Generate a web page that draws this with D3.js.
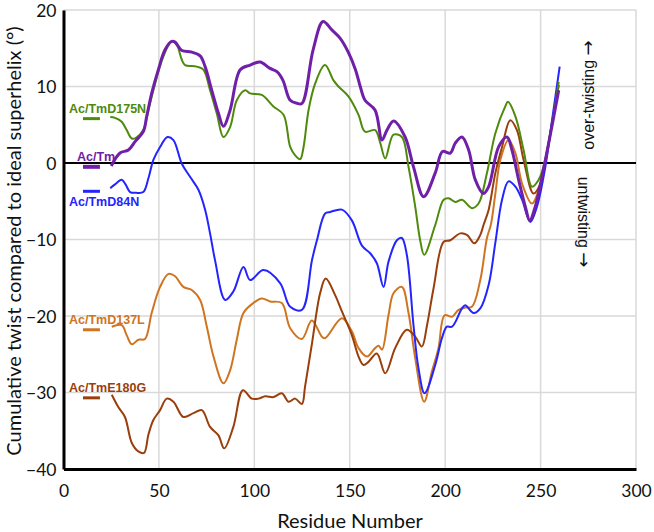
<!DOCTYPE html>
<html>
<head>
<meta charset="utf-8">
<script src="https://cdn.jsdelivr.net/npm/d3@7"></script>
<style>
  body { margin: 0; background: #fff; }
  svg { display: block; }
</style>
</head>
<body>
<svg></svg>
<script>
var width = 654;
var height = 532;

// axis ticks
var xTicks = [0, 50, 100, 150, 200, 250, 300];
var yTicks = [-40, -30, -20, -10, 0, 10, 20];

// [residue, cumulative twist]
var acTm = [[25,-0.4],[29.6,1.3],[34,1.7],[37.5,2.8],[41.8,4.1],[43.6,6.1],[46.2,9.1],[49.7,12.2],[53.2,14.8],[56.7,15.9],[58.5,15.8],[62,14.7],[67.2,14.5],[71.6,14.0],[74.2,12.6],[77.7,9.5],[81.2,6.5],[83.8,4.8],[87.3,6.9],[92.6,12.2],[97.8,12.8],[103,13.2],[108,12.4],[112,11.9],[115,10.8],[118.8,8.2],[122.4,7.8],[125,7.8],[130.8,14.8],[136,18.5],[140.6,17.4],[145,16.3],[149.4,14.4],[153,12.2],[155.5,10],[158,8.2],[163.3,6.9],[166.9,3.0],[169.5,4.3],[173,5.5],[179,3.4],[183.4,-0.5],[188.7,-4.4],[194.8,-1.3],[198.6,1.5],[202.7,1.3],[205.3,2.6],[208.8,3.4],[212.3,1.7],[215.8,-2.2],[220.1,-4.0],[222.8,-3.1],[228,2.1],[232.4,3.4],[235,1.7],[238.5,-2.2],[242,-5.7],[244.3,-7.5],[247.2,-5.7],[252.5,0.4],[259.5,9.5]];

var acD175N = [[24.5,6.0],[27,5.9],[30.5,5.4],[33.1,4.3],[35.8,3.2],[38,3.3],[41.8,4.3],[44.5,6.9],[47.1,9.5],[52.3,13.9],[56.7,15.9],[59.4,15.4],[62,13.5],[63.7,12.8],[69.8,12.6],[73.3,12.2],[76.8,9.5],[80.3,6.5],[83.8,3.4],[87.3,4.7],[90.8,8.2],[95.2,9.5],[97.8,9.1],[103.9,8.9],[110,7.4],[115.3,6.3],[118.8,2.1],[121.4,1.0],[124,0.5],[125.8,2.1],[128.4,6.9],[131.9,10.4],[137,12.8],[141.5,10.8],[144.1,10],[149.3,8.7],[154.6,6.3],[158,4.1],[163.3,4.3],[166,2.6],[168.6,0.6],[172.9,3.7],[177.3,3.4],[180.8,-0.5],[184.3,-5.7],[186.9,-10.1],[189,-12.0],[194.8,-8.1],[199.2,-4.8],[201.8,-4.6],[205.3,-5.1],[208.8,-4.8],[214,-5.9],[217.5,-5.3],[221.9,-1.3],[226.3,3.9],[231.5,7.4],[232.9,8.0],[236.8,6.1],[241.1,1.7],[245.5,-3.1],[249,-2.2],[252.5,0.4],[259.5,10.6]];

var acD84N = [[24.5,-3.3],[27,-2.8],[30.5,-2.2],[32.5,-2.8],[34.9,-3.8],[38,-3.9],[41.8,-3.8],[44.5,-2],[47.1,0.4],[50.6,2.1],[54.5,3.4],[57.6,3.0],[62,-0.1],[66.3,-1.8],[70.7,-3.5],[74.2,-6.1],[76.8,-9.2],[79.4,-12.7],[84.7,-17.9],[89,-16.8],[94.3,-13.6],[97.8,-15.3],[104.8,-14],[113.5,-15.7],[118.8,-18.8],[124.9,-19.2],[130.2,-12.7],[132.8,-10.1],[137.1,-6.6],[139.8,-6.4],[145.9,-6.1],[151.1,-7.5],[156.4,-10.8],[160.7,-11.8],[164.2,-13.1],[167.7,-16.2],[170.3,-12.9],[174.7,-10.1],[177.3,-9.8],[179.9,-12.0],[183.4,-21.2],[186,-26.8],[189.2,-30.1],[194.8,-26.4],[198.3,-22.9],[200.9,-21.4],[203.6,-21.4],[208.8,-19.0],[210.5,-18.6],[214.9,-19.6],[218.4,-19],[222.8,-15.9],[226.3,-10.4],[229.8,-4.8],[233.2,-2.4],[236.8,-3.1],[240.3,-4.8],[244.6,-7.7],[248.1,-5.7],[252.5,-0.5],[256,5.6],[260,12.6]];

var acD137L = [[25.3,-21.4],[30.5,-21.2],[33.1,-22.5],[35.8,-23.7],[39.2,-23.1],[42.7,-23.0],[46.2,-19.6],[50.6,-16.2],[55,-14.5],[58.5,-14.8],[62.8,-16.2],[67.2,-16.6],[71.6,-17.9],[75.1,-21.4],[78.6,-25.3],[83.8,-28.8],[87.3,-27.1],[90.8,-23.1],[94.3,-19.6],[99.5,-18.3],[103.9,-17.7],[108.3,-18.1],[114.4,-18.3],[118.8,-21.6],[124.9,-23.0],[130.1,-20.6],[135.4,-22.7],[137.1,-22.9],[145.9,-20.3],[151.1,-22.0],[154.6,-24.2],[159,-25.3],[163.3,-24.2],[165.1,-23.9],[166.9,-24.4],[170.3,-19.9],[173,-17.0],[177.3,-16.2],[180.8,-19.6],[184.3,-25.5],[189,-31.2],[193,-27.3],[196.5,-24.2],[199.7,-19.9],[203.6,-20.1],[207,-19.2],[210.5,-18.9],[214,-18.8],[218.4,-15.3],[221.9,-9.8],[224,-8],[226.3,-4],[228.9,0.4],[233.2,3.0],[236.8,1.3],[240.3,-2.7],[245.5,-5.3],[249,-3.5],[252.5,0.4],[259.5,10.2]];

var acE180G = [[25.3,-30.3],[28.7,-31.9],[32.2,-33.2],[35.8,-36.6],[39.2,-37.7],[42.2,-37.9],[44.5,-35.5],[47.1,-33.6],[50.6,-32.3],[54.1,-30.8],[57.6,-31.2],[62.8,-33.2],[68.1,-32.7],[72.5,-32.3],[76.8,-34.5],[81.2,-35.6],[84.2,-37.3],[89,-34.5],[94,-29.7],[98.7,-30.8],[102.2,-30.8],[105.7,-30.5],[110,-30.6],[114.4,-30.1],[117.9,-31.2],[121.4,-30.8],[124.9,-31.5],[126.6,-29.2],[130.2,-23.6],[134.5,-17.0],[137.4,-15.1],[142.4,-17.3],[145.9,-19.4],[151.1,-22.5],[154.6,-25.3],[157.2,-26.4],[159.8,-26.0],[164.2,-24.9],[168.6,-27.5],[173.8,-24.2],[179.9,-21.8],[184.3,-22.7],[187.8,-24.0],[190.5,-21.2],[193.9,-16.4],[199.2,-10.3],[202.7,-10.1],[207.9,-9.2],[211.4,-9.4],[215.3,-10.5],[218.4,-9.4],[220.1,-8.1],[222.8,-6.1],[226.3,-1.3],[229.8,2.1],[234.1,5.6],[237.6,4.3],[241.1,0.4],[246.3,-4.0],[249.9,-2.7],[252.5,0.4],[259.5,10.2]];

// legend: name, short dash level, colour
var seriesNames = ["Ac/TmD175N", "Ac/Tm", "Ac/TmD84N", "Ac/TmD137L", "Ac/TmE180G"];
var legendLevel = [5.8, -0.5, -3.7, -21.8, -30.7];
var colors = ["#4e8a0c", "#7020a8", "#2424ff", "#cf7420", "#9a3e0c"];

var svg = d3.select('svg')
    .attr("width", width)
    .attr("height", height);

var x = d3.scaleLinear().domain([0, 300]).range([63.5, 636]);
var y = d3.scaleLinear().domain([-40, 20]).range([469, 10]);

// grid
var grid = svg.append('g');
grid.selectAll('.hg').data(yTicks).enter().append('line')
    .attr("x1", x(0)).attr("x2", x(300))
    .attr("y1", d => y(d)).attr("y2", d => y(d))
    .attr("stroke", '#d9d9d9').attr("stroke-width", 1.5);
grid.selectAll('.vg').data(xTicks).enter().append('line')
    .attr("x1", d => x(d)).attr("x2", d => x(d))
    .attr("y1", y(20)).attr("y2", y(-40))
    .attr("stroke", '#d9d9d9').attr("stroke-width", 1.5);

// zero line
svg.append('line')
    .attr("x1", x(0)).attr("x2", x(300))
    .attr("y1", y(0)).attr("y2", y(0))
    .attr("stroke", 'black').attr("stroke-width", 2);

// axes
var xAxis = svg.append('g')
    .attr("transform", "translate(0," + y(-40) + ")")
    .call(d3.axisBottom(x).tickValues(xTicks).tickSize(0).tickPadding(16));
var yAxis = svg.append('g')
    .attr("transform", "translate(" + x(0) + ",0)")
    .call(d3.axisLeft(y).tickValues(yTicks).tickSize(0).tickPadding(7));
[xAxis, yAxis].forEach(function(a) {
    a.select('.domain').attr("stroke", 'black').attr("stroke-width", 3);
    a.selectAll('text')
        .attr("font-family", 'Lato, sans-serif')
        .attr("font-size", 17.5)
        .attr("fill", '#111');
});
yAxis.selectAll('text').attr("dy", '0.36em');

// lines
var line = d3.line()
    .x(d => x(d[0]))
    .y(d => y(d[1]))
    .curve(d3.curveCatmullRom.alpha(0.5));

var drawOrder = [
    [acD137L, 3, 2],
    [acE180G, 4, 2],
    [acD84N, 2, 2],
    [acD175N, 0, 2],
    [acTm, 1, 3]
];
drawOrder.forEach(function(s) {
    svg.append('path')
        .datum(s[0])
        .attr("fill", 'none')
        .attr("stroke", colors[s[1]])
        .attr("stroke-width", s[2])
        .attr("stroke-linejoin", 'round')
        .attr("d", line);
});

// legend dashes and labels
var legend = svg.append('g');
seriesNames.forEach(function(name, i) {
    legend.append('line')
        .attr("x1", x(10.2)).attr("x2", x(19.1))
        .attr("y1", y(legendLevel[i])).attr("y2", y(legendLevel[i]))
        .attr("stroke", colors[i])
        .attr("stroke-width", i == 1 ? 4 : 3);
    legend.append('text')
        .attr("x", i == 1 ? 77 : 69)
        .attr("y", y(legendLevel[i]) + (i == 2 ? 15 : -6))
        .attr("font-family", 'Liberation Sans, Arial, sans-serif')
        .attr("font-weight", 'bold')
        .attr("font-size", 12.5)
        .attr("fill", colors[i])
        .text(name);
});

// axis titles
svg.append('text')
    .attr("transform", "translate(" + 350 + "," + 528 + ")")
    .attr("text-anchor", 'middle')
    .attr("font-family", 'Lato, sans-serif')
    .attr("font-size", 20)
    .attr("fill", '#111')
    .text("Residue Number");

svg.append('text')
    .attr("transform", "translate(" + 21 + "," + 241 + ") rotate(-90)")
    .attr("text-anchor", 'middle')
    .attr("font-family", 'Lato, sans-serif')
    .attr("font-size", 20)
    .attr("fill", '#111')
    .text("Cumulative twist compared to ideal superhelix (°)");

// twist direction notes
var over = svg.append('text')
    .attr("transform", "translate(" + 594 + "," + 95 + ") rotate(-90)")
    .attr("text-anchor", 'middle')
    .attr("font-family", 'Liberation Sans, Arial, sans-serif')
    .attr("font-size", 16)
    .attr("fill", '#111');
over.append('tspan').text("over-twisting ");
over.append('tspan').attr("font-family", 'DejaVu Sans').attr("font-size", 18).text("\u2192");

var under = svg.append('text')
    .attr("transform", "translate(" + 578 + "," + 222 + ") rotate(90)")
    .attr("text-anchor", 'middle')
    .attr("font-family", 'Liberation Sans, Arial, sans-serif')
    .attr("font-size", 16)
    .attr("fill", '#111');
under.append('tspan').text("untwisting ");
under.append('tspan').attr("font-family", 'DejaVu Sans').attr("font-size", 18).text("\u2192");
</script>
</body>
</html>
